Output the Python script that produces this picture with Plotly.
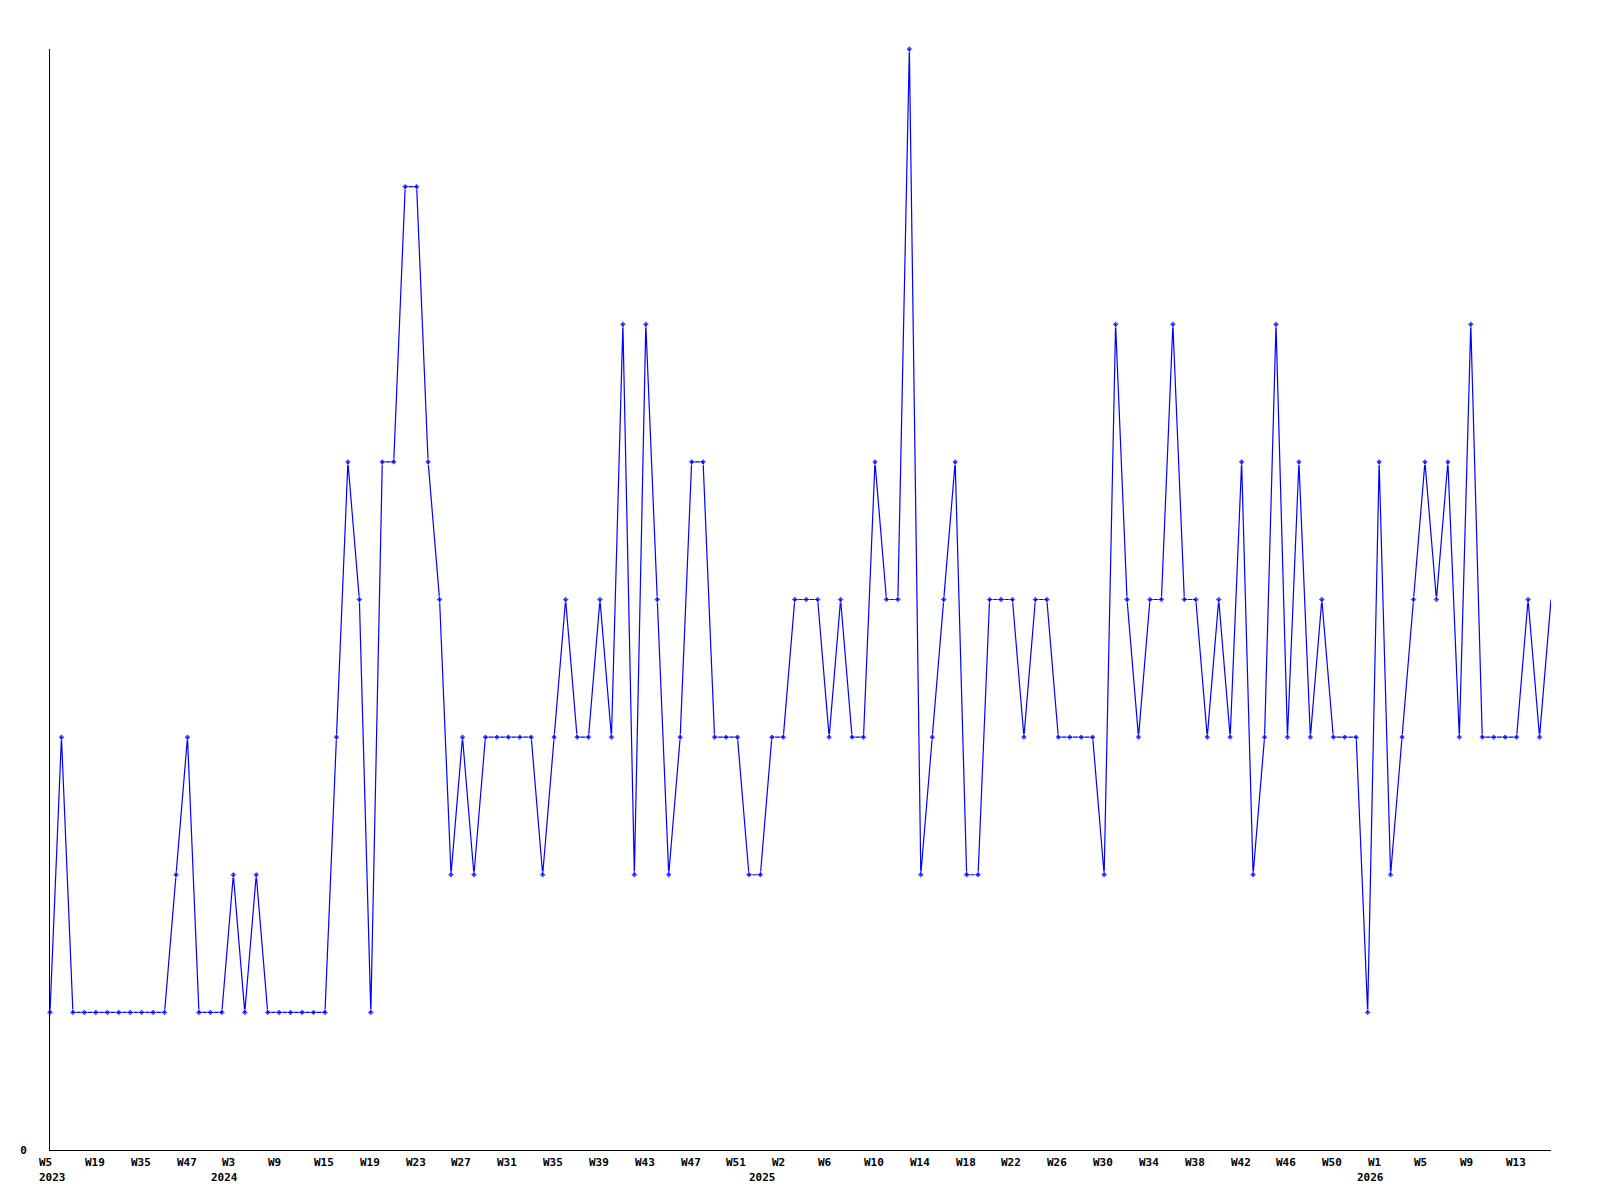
import plotly.graph_objects as go

# ---- data ----
years = ([2023] * 15 + [2024] * 47 + [2025] * 53 + [2026] * 17)
weeks = ([5, 8, 12, 15, 19, 23, 27, 31, 35, 38, 41, 44, 47, 49, 51]
         + [1, 3, 5, 6, 8, 9, 11, 12, 14] + list(range(15, 53))
         + list(range(0, 53))
         + list(range(0, 17)))
values = [1, 3, 1, 1, 1, 1, 1, 1, 1, 1, 1, 2, 3, 1, 1, 1, 2, 1, 2, 1,
          1, 1, 1, 1, 1, 3, 5, 4, 1, 5, 5, 7, 7, 5, 4, 2, 3, 2, 3, 3,
          3, 3, 3, 2, 3, 4, 3, 3, 4, 3, 6, 2, 6, 4, 2, 3, 5, 5, 3, 3,
          3, 2, 2, 3, 3, 4, 4, 4, 3, 4, 3, 3, 5, 4, 4, 8, 2, 3, 4, 5,
          2, 2, 4, 4, 4, 3, 4, 4, 3, 3, 3, 3, 2, 6, 4, 3, 4, 4, 6, 4,
          4, 3, 4, 3, 5, 2, 3, 6, 3, 5, 3, 4, 3, 3, 3, 1, 5, 2, 3, 4,
          5, 4, 5, 3, 6, 3, 3, 3, 3, 4, 3, 4]
categories = [f"{y}-W{w:02d}" for y, w in zip(years, weeks)]
tick_step = 4
y_max = 8

n = len(values)
marker_sizes = [5] * (n - 1) + [0]

fig = go.Figure()
fig.add_trace(go.Scatter(
    x=categories, y=values, mode="lines+markers",
    line=dict(color="#0000ff", width=1.2),
    marker=dict(symbol="diamond", size=marker_sizes, color="#0000ff"),
    cliponaxis=False,
    hoverinfo="x+y",
))

font = dict(family="DejaVu Sans Mono", size=11, color="black", weight="bold")

annotations = []
for i in range(0, n, tick_step):
    annotations.append(dict(
        x=categories[i], xref="x", y=0, yref="paper",
        text=f"W{weeks[i]}", showarrow=False, xanchor="left", yanchor="middle",
        xshift=-12, yshift=-12.5, font=font, borderpad=0,
    ))
prev = None
for i in range(n):
    if years[i] != prev:
        annotations.append(dict(
            x=categories[i], xref="x", y=0, yref="paper",
            text=str(years[i]), showarrow=False, xanchor="left", yanchor="middle",
            xshift=-12, yshift=-27.5, font=font, borderpad=0,
        ))
        prev = years[i]

fig.update_layout(
    width=1600, height=1200,
    margin=dict(l=42, r=57, t=41, b=58, autoexpand=False),
    plot_bgcolor="white", paper_bgcolor="white",
    showlegend=False,
    annotations=annotations,
    xaxis=dict(type="category", range=[0, n - 1], showgrid=False, zeroline=False,
               showline=True, linecolor="black", linewidth=1,
               showticklabels=False, ticks=""),
    yaxis=dict(range=[0, y_max], showgrid=False, zeroline=False,
               showline=True, linecolor="black", linewidth=1,
               tickvals=[0], ticktext=["0"], ticks="", tickfont=font,
               ticklabelstandoff=20),
)

fig.write_html("out.html")
